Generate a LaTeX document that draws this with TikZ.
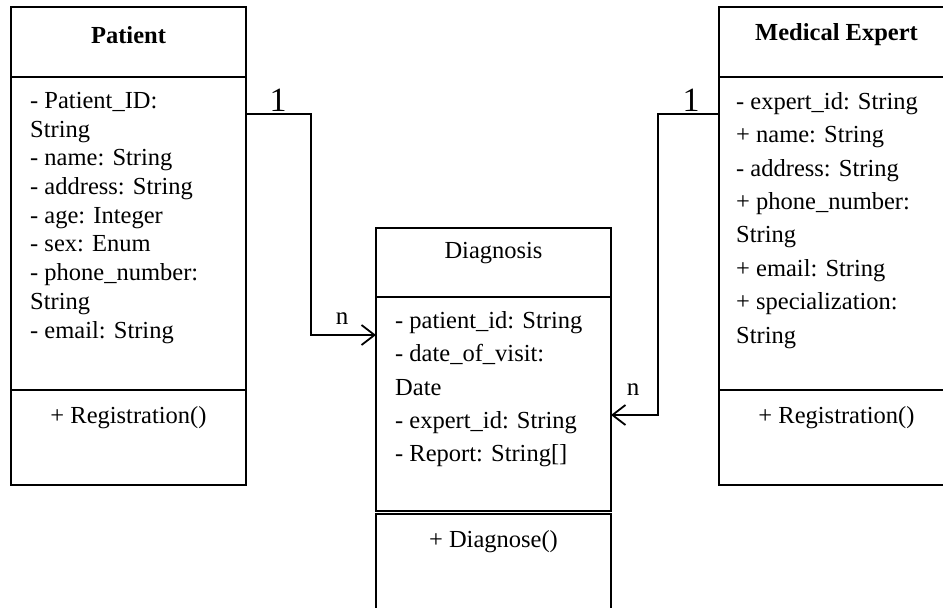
\documentclass[tikz,border=0pt]{standalone}
\usepackage{fontspec}
\setmainfont{Liberation Serif}
\usetikzlibrary{arrows.meta, positioning}

\tikzset{
  classpart/.style={draw=black, line width=1.2pt, minimum width=235pt, inner sep=0pt, outer sep=0pt},
  classname/.style={font=\fontsize{24.5}{29}\selectfont, inner sep=0pt},
  memberlist/.style={align=left, inner sep=0pt, anchor=north west},
  assoc/.style={line width=1.8pt, -{Straight Barb[length=13pt,width=20pt,line width=1.8pt]}},
  multlabel/.style={inner sep=0pt},
}

\begin{document}
\begin{tikzpicture}[x=1pt, y=1pt]
    \useasboundingbox (0,0) rectangle (943,-608);

    % Patient
    \node[classpart, minimum height=70pt, anchor=north west] (patHead) at (11,-7) {};
    \node[classpart, minimum height=313pt, below=0pt of patHead] (patAttr) {};
    \node[classpart, minimum height=95pt, below=0pt of patAttr] (patOps) {};
    \node[classname, font=\fontsize{24.5}{29}\selectfont\bfseries] (patName) at ([yshift=-28pt]patHead.north) {Patient};
    \node[memberlist, font=\fontsize{24.5}{28.7}\selectfont] (patList) at ([xshift=19pt,yshift=-15pt]patAttr.north west) {
        - Patient\_ID:\\String\\- name: String\\- address: String\\- age: Integer\\
        - sex: Enum\\- phone\_number:\\String\\- email: String};
    \node[classname] (patReg) at ([yshift=-28pt]patOps.north) {+ Registration()};

    % Medical Expert
    \node[classpart, minimum height=70pt, anchor=north west] (medHead) at (719,-7) {};
    \node[classpart, minimum height=313pt, below=0pt of medHead] (medAttr) {};
    \node[classpart, minimum height=95pt, below=0pt of medAttr] (medOps) {};
    \node[classname, font=\fontsize{24.5}{29}\selectfont\bfseries] (medName) at ([yshift=-28pt]medHead.north) {Medical Expert};
    \node[memberlist, font=\fontsize{24.5}{33.4}\selectfont] (medList) at ([xshift=17pt,yshift=-15pt]medAttr.north west) {
        - expert\_id: String\\+ name: String\\- address: String\\+ phone\_number:\\String\\
        + email: String\\+ specialization:\\String};
    \node[classname] (medReg) at ([yshift=-28pt]medOps.north) {+ Registration()};

    % Diagnosis
    \node[classpart, minimum height=69pt, anchor=north west] (diagHead) at (376,-228) {};
    \node[classpart, minimum height=214pt, below=0pt of diagHead] (diagAttr) {};
    \node[classpart, minimum height=106pt, below=3pt of diagAttr] (diagOps) {};
    \node[classname] (diagName) at ([yshift=-25pt]diagHead.north) {Diagnosis};
    \node[memberlist, font=\fontsize{24.5}{33.4}\selectfont] (diagList) at ([xshift=19pt,yshift=-14pt]diagAttr.north west) {
        - patient\_id: String\\- date\_of\_visit:\\Date\\- expert\_id: String\\- Report: String[]};
    \node[classname] (diagOp) at ([yshift=-28pt]diagOps.north) {+ Diagnose()};

    % associations
    \draw[assoc] ([yshift=-37pt]patAttr.north east) -- ++(65,0) |- ([yshift=-38pt]diagAttr.north west);
    \draw[assoc] ([yshift=-37pt]medAttr.north west) -- ++(-61,0) |- ([yshift=-118pt]diagAttr.north east);

    \node[multlabel, font=\fontsize{34}{40}\selectfont] (patOne) at (278,-100) {1};
    \node[multlabel, font=\fontsize{25}{30}\selectfont] (patMany) at (342,-319) {n};
    \node[multlabel, font=\fontsize{34}{40}\selectfont] (medOne) at (691,-100) {1};
    \node[multlabel, font=\fontsize{25}{30}\selectfont] (medMany) at (633,-390) {n};
\end{tikzpicture}
\end{document}
